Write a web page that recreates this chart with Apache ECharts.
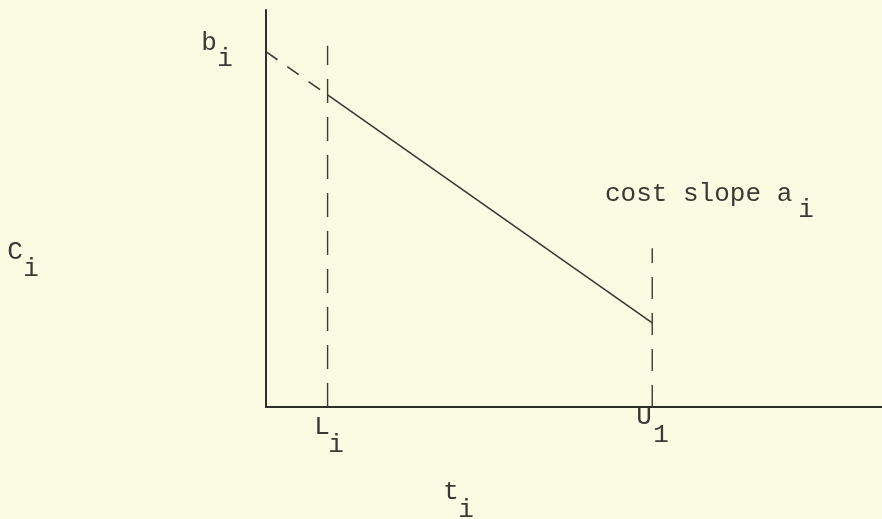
<!DOCTYPE html>
<html>
<head>
<meta charset="utf-8">
<script src="https://cdn.jsdelivr.net/npm/echarts@6/dist/echarts.min.js"></script>
<style>
html,body{margin:0;padding:0;background:#fbfbe4;}
#chart{width:882px;height:519px;}
</style>
</head>
<body>
<div id="chart"></div>
<script>
// Key abscissas (t_i): origin, lower bound L_i, upper bound U_i
var tPoints = [0, 1.0, 6.27];
// Cost C_i at those abscissas (b_i at t=0, then at L_i, at U_i)
var costPoints = [8.95, 7.86, 2.12];
// Heights of the vertical dashed guide lines at L_i and U_i
var guideTops = [9.1, 4.0];
// Axis ranges
var tRange = [0, 10];
var cRange = [0, 10];

var ink = '#3a3a32';
var font = 'Liberation Mono, Courier New, monospace';

var chart = echarts.init(document.getElementById('chart'));

function txt(s, x, y, align) {
  return {
    type: 'text', x: x, y: y, silent: true,
    style: { text: s, fill: ink, font: '26px ' + font, textAlign: align || 'center', textVerticalAlign: 'middle' }
  };
}

chart.setOption({
  backgroundColor: '#fbfbe4',
  animation: false,
  grid: { left: 266, right: 0, top: 10, bottom: 112, containLabel: false },
  xAxis: {
    type: 'value', min: tRange[0], max: tRange[1],
    axisLine: { show: true, onZero: false, lineStyle: { color: '#2e2e2a', width: 2 } },
    axisTick: { show: false }, axisLabel: { show: false }, splitLine: { show: false }
  },
  yAxis: {
    type: 'value', min: cRange[0], max: cRange[1],
    axisLine: { show: true, onZero: false, lineStyle: { color: '#2e2e2a', width: 2 } },
    axisTick: { show: false }, axisLabel: { show: false }, splitLine: { show: false }
  },
  series: [
    {
      type: 'line', symbol: 'none', silent: true,
      data: [[tPoints[0], costPoints[0]], [tPoints[1], costPoints[1]]],
      lineStyle: { color: ink, width: 1.6, type: [14, 12] }
    },
    {
      type: 'line', symbol: 'none', silent: true,
      data: [[tPoints[1], costPoints[1]], [tPoints[2], costPoints[2]]],
      lineStyle: { color: ink, width: 1.6 }
    },
    {
      type: 'line', symbol: 'none', silent: true,
      data: [[tPoints[1], 0], [tPoints[1], guideTops[0]]],
      lineStyle: { color: ink, width: 1.4, type: [24, 14] }
    },
    {
      type: 'line', symbol: 'none', silent: true,
      data: [[tPoints[2], 0], [tPoints[2], guideTops[1]]],
      lineStyle: { color: ink, width: 1.4, type: [22, 14] }
    }
  ],
  graphic: [
    txt('b', 209, 43), txt('i', 225, 59),
    txt('C', 15, 252), txt('i', 31, 269),
    txt('L', 322, 427), txt('i', 336, 445),
    txt('U', 644, 417), txt('1', 661, 435),
    txt('t', 451, 492), txt('i', 466, 510),
    txt('cost slope a', 605, 194, 'left'), txt('i', 806, 210)
  ]
});
</script>
</body>
</html>
